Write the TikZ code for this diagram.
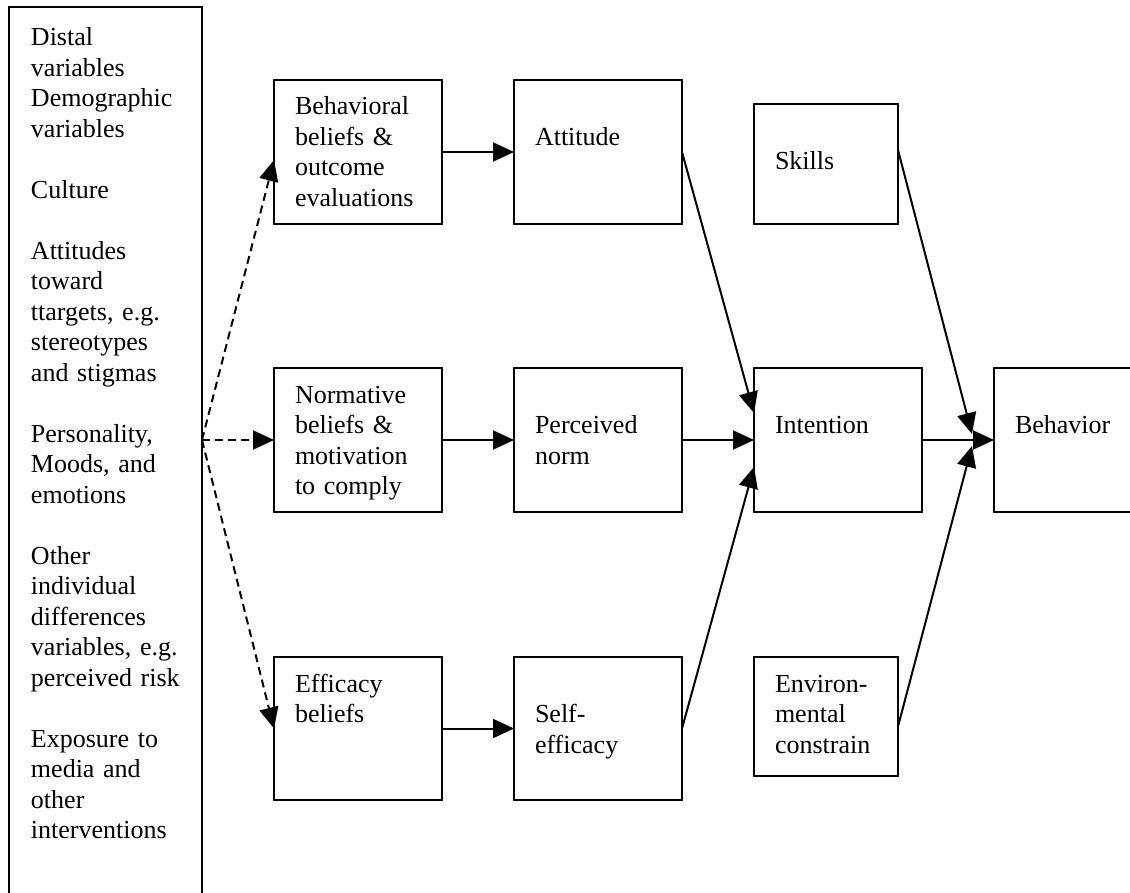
\documentclass[tikz,border=0pt]{standalone}
\usepackage{fontspec}
\setmainfont{Liberation Serif}
\usetikzlibrary{arrows.meta}
\begin{document}
\begin{tikzpicture}[x=0.5pt,y=-0.5pt,
  box/.style={draw,line width=1pt,inner sep=0pt,outer sep=0pt,anchor=north west},
  txt/.style={anchor=base west,inner sep=0pt,outer sep=0pt,align=left,text width=86pt,font=\fontsize{13pt}{15.25pt}\selectfont},
  arr/.style={line width=1pt,-{Triangle[length=10.5pt,width=9.5pt]}},
  darr/.style={arr,dash pattern=on 4pt off 2.5pt}]
\useasboundingbox (0,0) rectangle (1130,893);
\clip (0,0) rectangle (1130,893);
% boxes
\node[box,minimum width=96.5pt,minimum height=449pt] (L) at (9,7) {};
\node[box,minimum width=84pt,minimum height=72pt] (b1) at (274,80) {};
\node[box,minimum width=84pt,minimum height=72pt] (att) at (514,80) {};
\node[box,minimum width=72pt,minimum height=60pt] (sk) at (754,104) {};
\node[box,minimum width=84pt,minimum height=72pt] (b2) at (274,368) {};
\node[box,minimum width=84pt,minimum height=72pt] (pn) at (514,368) {};
\node[box,minimum width=84pt,minimum height=72pt] (int) at (754,368) {};
\node[box,minimum width=83pt,minimum height=72pt] (beh) at (994,368) {};
\node[box,minimum width=84pt,minimum height=71.5pt] (eff) at (274,657) {};
\node[box,minimum width=84pt,minimum height=71.5pt] (se) at (514,657) {};
\node[box,minimum width=72pt,minimum height=59.5pt] (env) at (754,657) {};
% texts
\node[txt] (Lt) at ([shift={(11pt,-19.5pt)}]L.north west) {Distal\\variables\\Demographic\\variables\\~\\Culture\\~\\Attitudes\\toward\\ttargets, e.g.\\stereotypes\\and stigmas\\~\\Personality,\\Moods, and\\emotions\\~\\Other\\individual\\differences\\variables, e.g.\\perceived risk\\~\\Exposure to\\media and\\other\\interventions};
\node[txt] (b1t) at ([shift={(10.5pt,-17.5pt)}]b1.north west) {Behavioral\\beliefs \&\\outcome\\evaluations};
\node[txt] (attt) at ([shift={(10.5pt,-32.75pt)}]att.north west) {Attitude};
\node[txt] (skt) at ([shift={(10.5pt,-32.75pt)}]sk.north west) {Skills};
\node[txt] (b2t) at ([shift={(10.5pt,-17.5pt)}]b2.north west) {Normative\\beliefs \&\\motivation\\to comply};
\node[txt] (pnt) at ([shift={(10.5pt,-32.75pt)}]pn.north west) {Perceived\\norm};
\node[txt] (intt) at ([shift={(10.5pt,-32.75pt)}]int.north west) {Intention};
\node[txt] (beht) at ([shift={(10.5pt,-32.75pt)}]beh.north west) {Behavior};
\node[txt] (efft) at ([shift={(10.5pt,-17.5pt)}]eff.north west) {Efficacy\\beliefs};
\node[txt] (set) at ([shift={(10.5pt,-32.75pt)}]se.north west) {Self-\\efficacy};
\node[txt] (envt) at ([shift={(10.5pt,-17.5pt)}]env.north west) {Environ-\\mental\\constrain};
% arrows
\draw[arr] (b1.east) -- (att.west);
\draw[arr] (b2.east) -- (pn.west);
\draw[arr] (eff.east) -- (se.west);
\draw[arr] (pn.east) -- (int.west);
\draw[arr] (int.east) -- (beh.west);
\draw[arr] (att.east) -- ([yshift=13.5pt]int.west);
\draw[arr] (se.east) -- ([yshift=-13.5pt]int.west);
\draw[arr] ([yshift=7pt]sk.east) -- ([shift={(-11pt,3pt)}]beh.west);
\draw[arr] ([yshift=-5pt]env.east) -- ([shift={(-11pt,-3pt)}]beh.west);
% dashed
\draw[darr] ([yshift=8pt]L.east) -- ([yshift=-4pt]b1.west);
\draw[darr] ([yshift=8pt]L.east) -- (b2.west);
\draw[darr] ([yshift=8pt]L.east) -- (eff.west);
\end{tikzpicture}
\end{document}
